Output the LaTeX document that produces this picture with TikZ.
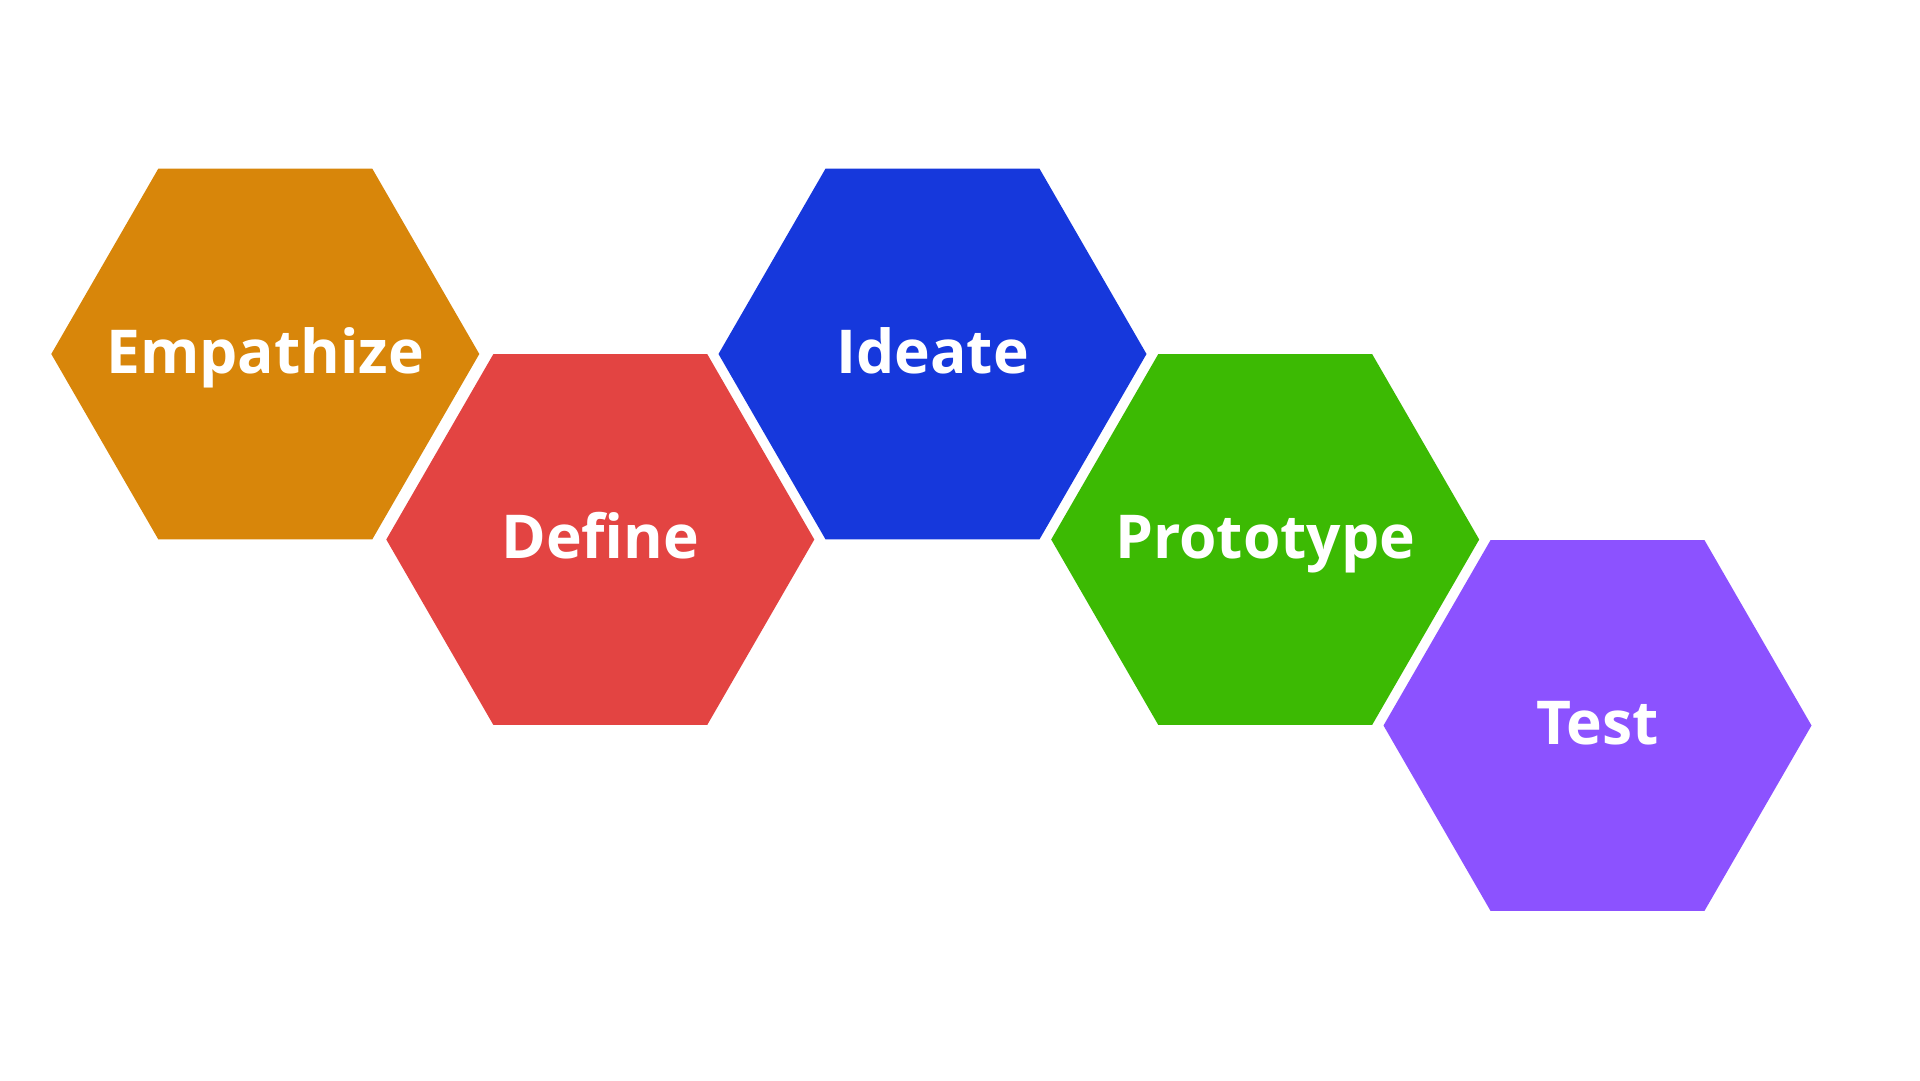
\documentclass[tikz,border=0pt]{standalone}
\usepackage{fontspec}
\setmainfont{Open Sans}
\usetikzlibrary{shapes.geometric}
\definecolor{cEmp}{HTML}{D8860A}
\definecolor{cDef}{HTML}{E34442}
\definecolor{cIde}{HTML}{1638DC}
\definecolor{cPro}{HTML}{3CBA03}
\definecolor{cTes}{HTML}{8C52FF}
\tikzset{
  hexa/.style={regular polygon, regular polygon sides=6, minimum size=428pt,
    inner sep=0pt, outer sep=0pt, draw=none},
  lbl/.style={text=white, font=\fontsize{60.5}{62}\selectfont\bfseries, anchor=base,
    inner sep=0pt}
}
\begin{document}
\begin{tikzpicture}[x=1pt,y=-1pt]
\useasboundingbox[fill=white] (0,0) rectangle (1920,1080);
\node[hexa, fill=cEmp] (emp) at (265.3,354) {};
\node[hexa, fill=cDef] (def) at (600.3,539.5) {};
\node[hexa, fill=cIde] (ide) at (932.5,354) {};
\node[hexa, fill=cPro] (pro) at (1265.2,539.5) {};
\node[hexa, fill=cTes] (tes) at (1597.5,725.5) {};
\node[lbl] (tEmp) at ([yshift=-19pt]emp.center) {Empathize};
\node[lbl] (tDef) at ([yshift=-19pt]def.center) {Define};
\node[lbl] (tIde) at ([yshift=-19pt]ide.center) {Ideate};
\node[lbl] (tPro) at ([yshift=-19pt]pro.center) {Prototype};
\node[lbl] (tTes) at ([yshift=-19pt]tes.center) {Test};
\end{tikzpicture}
\end{document}
